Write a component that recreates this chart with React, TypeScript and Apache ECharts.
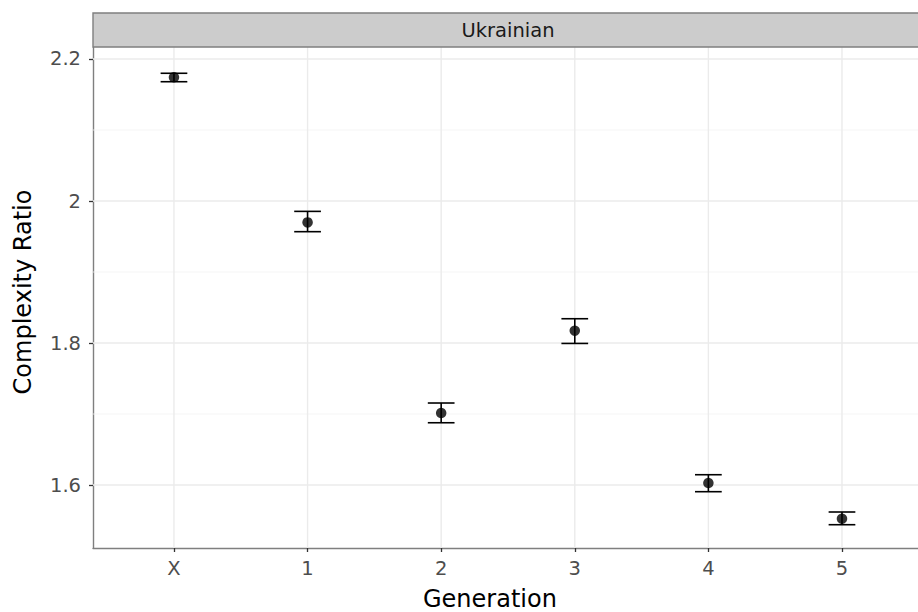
import React, { useEffect, useRef } from "react";
import * as echarts from "echarts";

const categories = ["X", "1", "2", "3", "4", "5"];
const means = [2.1742, 1.9699, 1.7014, 1.8173, 1.6028, 1.5525];
const lower = [2.168, 1.9568, 1.6877, 1.7994, 1.5906, 1.5441];
const upper = [2.1799, 1.9854, 1.7155, 1.8342, 1.6145, 1.562];
const yTicks = [1.6, 1.8, 2.0, 2.2];
const yMinor = [1.7, 1.9, 2.1];
const facetLabel = "Ukrainian";
const xTitle = "Generation";
const yTitle = "Complexity Ratio";

const FONT = "DejaVu Sans";
const Y_MIN = 1.5113;
const Y_MAX = 2.2169;
const X_MIN = -0.606;
const X_MAX = 5.569;

export default function App() {
  const ref = useRef<HTMLDivElement>(null);
  useEffect(() => {
    if (!ref.current) return;
    const chart = echarts.init(ref.current, undefined, { renderer: "svg" });
    const xIdx = categories.map((_, i) => i);
    // gridline data: [x, y, kind]; kind 0 = minor horizontal, 1 = major horizontal, 2 = vertical
    const gridData = [
      ...yMinor.map((v) => [0, v, 0]),
      ...yTicks.map((v) => [0, v, 1]),
      ...xIdx.map((v) => [v, 2.0, 2]),
    ];
    chart.setOption({
      animation: false,
      backgroundColor: "#ffffff",
      grid: {
        left: 93,
        right: 0,
        top: 47,
        bottom: 64,
        show: false,
        containLabel: false,
      },
      xAxis: {
        type: "value",
        min: X_MIN,
        max: X_MAX,
        axisLine: { show: true, onZero: false, lineStyle: { color: "#7f7f7f", width: 1.4 } },
        splitLine: { show: false },
        axisTick: {
          show: true,
          customValues: xIdx,
          length: 4,
          lineStyle: { color: "#333333", width: 1.3 },
        },
        axisLabel: {
          customValues: xIdx,
          formatter: (v: number) => categories[Math.round(v)] ?? "",
          color: "#4d4d4d",
          fontSize: 19.5,
          fontFamily: FONT,
          margin: 10,
        },
      },
      yAxis: {
        type: "value",
        min: Y_MIN,
        max: Y_MAX,
        axisLine: { show: true, onZero: false, lineStyle: { color: "#7f7f7f", width: 1.4 } },
        splitLine: { show: false },
        axisTick: {
          show: true,
          customValues: yTicks,
          length: 4,
          lineStyle: { color: "#333333", width: 1.3 },
        },
        axisLabel: {
          customValues: yTicks,
          formatter: (v: number) => String(Math.round(v * 10) / 10),
          color: "#4d4d4d",
          fontSize: 19.5,
          fontFamily: FONT,
          margin: 12,
        },
      },
      series: [
        {
          type: "custom",
          z: 1,
          silent: true,
          data: gridData,
          encode: { x: 0, y: 1 },
          renderItem: (params: any, api: any) => {
            const cs = params.coordSys;
            const kind = api.value(2);
            if (kind === 2) {
              const x = api.coord([api.value(0), Y_MIN])[0];
              return {
                type: "line",
                shape: { x1: x, y1: cs.y, x2: x, y2: cs.y + cs.height },
                style: { stroke: "#ebebeb", lineWidth: 1.4 },
              };
            }
            const y = api.coord([0, api.value(1)])[1];
            return {
              type: "line",
              shape: { x1: cs.x, y1: y, x2: cs.x + cs.width, y2: y },
              style: kind === 1 ? { stroke: "#ebebeb", lineWidth: 1.4 } : { stroke: "#f3f3f3", lineWidth: 0.8 },
            };
          },
        },
        {
          type: "custom",
          z: 3,
          silent: true,
          data: xIdx.map((i) => [i, lower[i], upper[i]]),
          encode: { x: 0, y: [1, 2] },
          renderItem: (params: any, api: any) => {
            const x = api.value(0);
            const lo = api.coord([x, api.value(1)]);
            const hi = api.coord([x, api.value(2)]);
            const l = api.coord([x - 0.1, api.value(1)]);
            const r = api.coord([x + 0.1, api.value(1)]);
            const style = { stroke: "#000000", lineWidth: 1.6 };
            return {
              type: "group",
              children: [
                { type: "line", shape: { x1: lo[0], y1: lo[1], x2: hi[0], y2: hi[1] }, style },
                { type: "line", shape: { x1: l[0], y1: hi[1], x2: r[0], y2: hi[1] }, style },
                { type: "line", shape: { x1: l[0], y1: lo[1], x2: r[0], y2: lo[1] }, style },
              ],
            };
          },
        },
        {
          type: "scatter",
          z: 4,
          silent: true,
          symbol: "circle",
          symbolSize: 10.5,
          itemStyle: { color: "#000000" },
          data: xIdx.map((i) => [i, means[i]]),
        },
      ],
      graphic: [
        {
          type: "rect",
          shape: { x: 93, y: 13, width: 840, height: 34 },
          style: { fill: "#cccccc", stroke: "#7f7f7f", lineWidth: 1.4 },
          z: 10,
        },
        {
          type: "text",
          x: 508,
          y: 30,
          style: {
            text: facetLabel,
            fill: "#1a1a1a",
            fontSize: 19.5,
            fontFamily: FONT,
            align: "center",
            verticalAlign: "middle",
          },
          z: 11,
        },
        {
          type: "text",
          x: 423,
          y: 599,
          style: {
            text: xTitle,
            fill: "#000000",
            fontSize: 24,
            fontFamily: FONT,
            align: "left",
            verticalAlign: "middle",
          },
        },
        {
          type: "text",
          x: 23,
          y: 292,
          rotation: Math.PI / 2,
          style: {
            text: yTitle,
            fill: "#000000",
            fontSize: 24,
            fontFamily: FONT,
            align: "center",
            verticalAlign: "middle",
          },
        },
      ],
    });
    return () => chart.dispose();
  }, []);
  return <div ref={ref} style={{ width: 918, height: 612, position: "absolute", left: 0, top: 0 }} />;
}
